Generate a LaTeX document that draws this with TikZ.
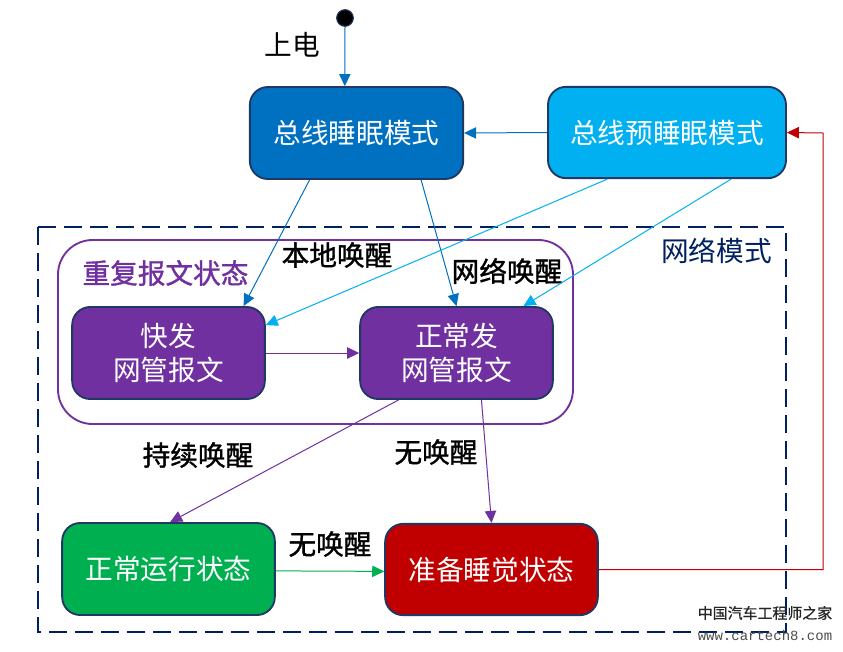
\documentclass[tikz,border=0pt]{standalone}
\usepackage{fontspec}
\setmainfont{Noto Sans CJK SC}
\newfontfamily\tagfont[FakeBold=1.2]{Noto Sans CJK SC}
\newfontfamily\markcnfont[FakeBold=0.8]{Noto Sans CJK SC}
\newfontfamily\markfont{Liberation Mono}
\usetikzlibrary{arrows.meta}

\definecolor{sleepblue}{HTML}{0070C0}
\definecolor{skyblue}{HTML}{00B0F0}
\definecolor{statepurple}{HTML}{7030A0}
\definecolor{rungreen}{HTML}{00B050}
\definecolor{readyred}{HTML}{C00000}
\definecolor{navyline}{HTML}{002060}
\definecolor{edgenavy}{HTML}{1F3864}

\tikzset{
  statebox/.style={draw=edgenavy, line width=1.4pt, rounded corners=13.5pt, text=white, align=center, inner sep=0pt, font=\fontsize{20.75pt}{25.5pt}\selectfont},
  tag/.style={inner sep=0pt, font=\fontsize{20.75pt}{25pt}\selectfont},
  boldtag/.style={tag, font=\tagfont\fontsize{20.75pt}{25pt}\selectfont},
  arrow/.style={-{Triangle[length=9pt,width=8.5pt]}, line width=0.75pt},
}

\begin{document}
\begin{tikzpicture}[x=0.75pt, y=-0.75pt]
\useasboundingbox (0,0) rectangle (843,651);

\draw [navyline, line width=1.5pt, dash pattern=on 13.5pt off 6pt] (38,227) rectangle (786,632);
\draw [statepurple, line width=1.4pt, rounded corners=26pt] (58,240) rectangle (573,424);

\node[circle, fill=black, draw=edgenavy, line width=0.8pt, minimum size=12.5pt, inner sep=0pt] (start) at (345,18) {};

\node[statebox, fill=sleepblue, minimum width=160pt, minimum height=69pt] (sleep) at (356.5,133) {\raisebox{-0.6pt}{总线睡眠模式}};
\node[statebox, fill=skyblue, minimum width=178.5pt, minimum height=68.5pt] (presleep) at (667,132.5) {\raisebox{-0.6pt}{总线预睡眠模式}};
\node[statebox, fill=statepurple, minimum width=144.5pt, minimum height=69pt] (fastsend) at (168.5,353) {快发\\网管报文};
\node[statebox, fill=statepurple, minimum width=144.5pt, minimum height=69pt] (normalsend) at (456.5,353) {正常发\\网管报文};
\node[statebox, fill=rungreen, minimum width=159.5pt, minimum height=69pt] (run) at (168.5,569) {正常运行状态};
\node[statebox, fill=readyred, minimum width=159.5pt, minimum height=68.5pt] (ready) at (491.5,569.5) {准备睡觉状态};

\coordinate (corner) at (823,133);

\node[tag] (poweron) at (292,45) {上电};
\node[boldtag] (localwake) at (337,255) {本地唤醒};
\node[boldtag] (netwake) at (507,271) {网络唤醒};
\node[boldtag, text=statepurple] (repeat) at (165.5,273) {重复报文状态};
\node[tag, text=navyline] (netmode) at (716.5,251) {网络模式};
\node[boldtag] (keepwake) at (198,455) {持续唤醒};
\node[boldtag] (nowakeA) at (436,452) {无唤醒};
\node[boldtag] (nowakeB) at (330,544) {无唤醒};

\draw [arrow, sleepblue] (start.south) -- (sleep.104);
\draw [arrow, sleepblue] (presleep.180.7) -- (sleep.-0.5);
\draw [arrow, sleepblue] (sleep.225) -- (fastsend.32);
\draw [arrow, sleepblue] (sleep.-36) -- (normalsend.north);
\draw [arrow, skyblue] (presleep.218) -- (fastsend.16);
\draw [arrow, skyblue] (presleep.-36) -- (normalsend.35);
\draw [arrow, statepurple] (fastsend.east) -- (normalsend.west);
\draw [arrow, statepurple] (normalsend.219) -- (run.88);
\draw [arrow, statepurple] (normalsend.-62) -- (ready.north);
\draw [arrow, rungreen] (run.-1.2) -- (ready.181.3);
\draw [arrow, readyred] (ready.-0.8) -| (corner) -- (presleep.east);

% site mark
\node[inner sep=0pt, text=black!85, font=\markcnfont\fontsize{11.2pt}{13pt}\selectfont] (markcn) at (765,613) {中国汽车工程师之家};
\node[inner sep=0pt, text=black!70, font=\markfont\fontsize{10.5pt}{12pt}\selectfont] (markurl) at (765,635) {www.cartech8.com};
\end{tikzpicture}
\end{document}
